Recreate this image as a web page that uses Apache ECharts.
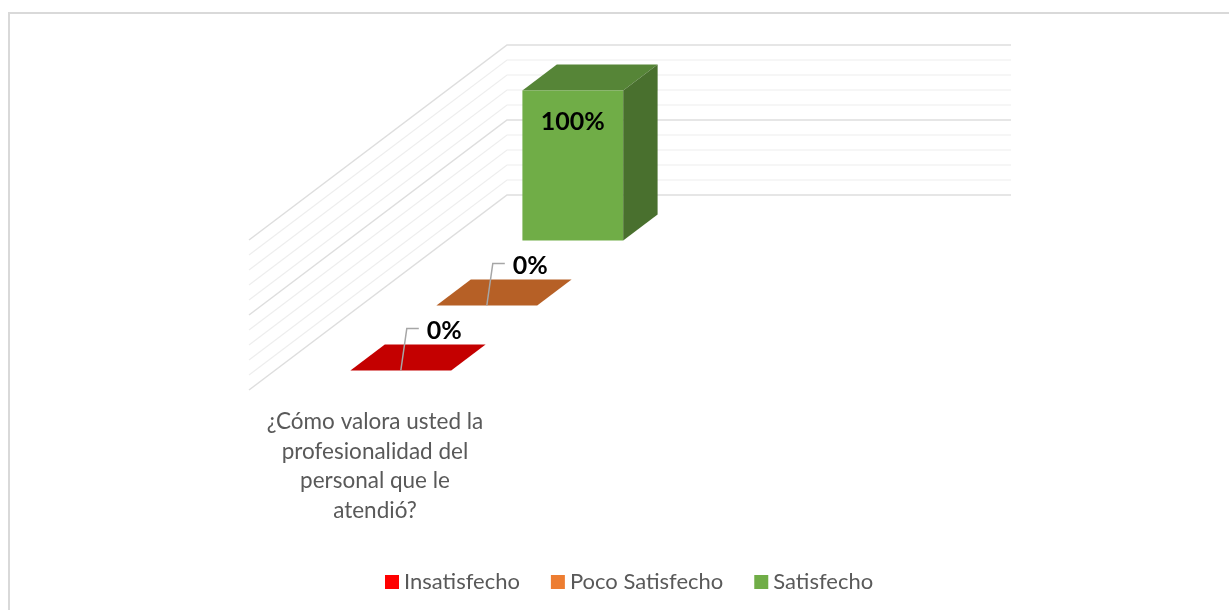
<!DOCTYPE html>
<html>
<head>
<meta charset="utf-8">
<style>
  html, body { margin: 0; padding: 0; background: #fff; overflow: hidden; }
  #chart { width: 1229px; height: 610px; }
</style>
<script src="https://cdn.jsdelivr.net/npm/echarts@6/dist/echarts.min.js"></script>
</head>
<body>
<div id="chart"></div>
<script>
const categories = ['¿Cómo valora usted la\nprofesionalidad del\npersonal que le\natendió?', '']
const seriesNames = ['Insatisfecho', 'Poco Satisfecho', 'Satisfecho']
const insatisfechoValues = [0]
const pocoSatisfechoValues = [0]
const satisfechoValues = [100]
const yTicks = [0, 10, 20, 30, 40, 50, 60, 70, 80, 90, 100]

const seriesColors = ['#FF0000', '#ED7D31', '#70AD47']
const fontName = 'Lato, "Open Sans", sans-serif'

// vector of the floor from the back wall to the front edge
const depth = [-258, 195]
const barDepth = 0.1333
const barWidth = 0.4

function project(x, y, t) {
  return [x + t * depth[0], y + t * depth[1]]
}

function shade(color, k) {
  const c = echarts.color.parse(color)
  return 'rgb(' + Math.round(c[0] * k) + ',' + Math.round(c[1] * k) + ',' + Math.round(c[2] * k) + ')'
}

function wallItem(params, api) {
  const tick = api.value(0)
  const y = api.coord([0, tick])[1]
  const x0 = params.coordSys.x
  const x1 = x0 + params.coordSys.width
  const major = tick % 50 === 0
  return {
    type: 'polyline',
    shape: { points: [[x1, y], [x0, y], project(x0, y, 1)] },
    style: { fill: null, stroke: major ? '#dedede' : '#eeeeee', lineWidth: major ? 1.5 : 1.2 }
  }
}

function barItem(row) {
  return function (params, api) {
    const value = api.value(1)
    const base = api.coord([0, 0])
    const top = api.coord([0, value])
    const w = api.size([1, 0])[0] * barWidth
    const xl = base[0] - w / 2
    const xr = base[0] + w / 2
    const mid = (seriesNames.length - row - 0.5) / seriesNames.length
    const tf = mid + barDepth / 2
    const tb = mid - barDepth / 2
    const color = seriesColors[row]
    const children = []

    children.push({
      type: 'polygon',
      shape: { points: [project(xl, top[1], tf), project(xr, top[1], tf), project(xr, top[1], tb), project(xl, top[1], tb)] },
      style: { fill: shade(color, 0.77) }
    })
    if (value > 0) {
      children.push({
        type: 'polygon',
        shape: { points: [project(xl, top[1], tf), project(xr, top[1], tf), project(xr, base[1], tf), project(xl, base[1], tf)] },
        style: { fill: color }
      })
      children.push({
        type: 'polygon',
        shape: { points: [project(xr, top[1], tf), project(xr, top[1], tb), project(xr, base[1], tb), project(xr, base[1], tf)] },
        style: { fill: shade(color, 0.65) }
      })
    }

    const anchor = project(base[0], top[1], tf)
    if (value > 0) {
      children.push({
        type: 'text',
        style: {
          text: value + '%', x: anchor[0], y: anchor[1] + 31, align: 'center', verticalAlign: 'middle',
          fontFamily: fontName, fontSize: 25, fontWeight: 'bold', fill: '#000'
        }
      })
    } else {
      // zero bars get a leader line up to the label
      children.push({
        type: 'polyline',
        shape: { points: [anchor, [anchor[0] + 6, anchor[1] - 42], [anchor[0] + 18, anchor[1] - 42]] },
        style: { fill: null, stroke: '#a6a6a6', lineWidth: 1.5 }
      })
      children.push({
        type: 'text',
        style: {
          text: value + '%', x: anchor[0] + 26, y: anchor[1] - 40, align: 'left', verticalAlign: 'middle',
          fontFamily: fontName, fontSize: 25, fontWeight: 'bold', fill: '#000'
        }
      })
    }
    return { type: 'group', children: children }
  }
}

function categoryItem(params, api) {
  const c = api.coord([api.value(0), 0])
  const p = project(c[0], c[1], 1)
  return {
    type: 'text',
    style: {
      text: categories[api.value(0)], x: p[0], y: p[1] + 17, align: 'center', verticalAlign: 'top',
      fontFamily: fontName, fontSize: 22.5, lineHeight: 29.5, fill: '#595959'
    }
  }
}

const chart = echarts.init(document.getElementById('chart'))
chart.setOption({
  animation: false,
  backgroundColor: '#fff',
  graphic: [
    {
      type: 'rect',
      shape: { x: 9, y: 13, width: 1400, height: 800 },
      style: { fill: null, stroke: '#d9d9d9', lineWidth: 2 },
      silent: true
    }
  ],
  grid: { left: 507, right: 218, top: 45, bottom: 415 },
  xAxis: { type: 'category', data: categories, show: false },
  yAxis: { type: 'value', min: 0, max: 100, interval: 10, show: false },
  legend: {
    data: seriesNames,
    left: 380,
    top: 566,
    icon: 'rect',
    itemWidth: 14,
    itemHeight: 14,
    itemGap: 31,
    selectedMode: false,
    textStyle: { fontFamily: fontName, fontSize: 22, color: '#595959' }
  },
  series: [
    {
      type: 'custom', name: 'walls', silent: true, z: 1,
      encode: { y: 0 },
      renderItem: wallItem,
      data: yTicks.map(t => [t])
    },
    {
      type: 'custom', name: 'categoryLabels', silent: true, z: 1,
      renderItem: categoryItem,
      data: [[0]]
    },
    {
      type: 'custom', name: seriesNames[0], z: 2,
      itemStyle: { color: seriesColors[0] },
      encode: { x: 0, y: 1 },
      renderItem: barItem(0),
      data: insatisfechoValues.map((v, i) => [i, v])
    },
    {
      type: 'custom', name: seriesNames[1], z: 2,
      itemStyle: { color: seriesColors[1] },
      encode: { x: 0, y: 1 },
      renderItem: barItem(1),
      data: pocoSatisfechoValues.map((v, i) => [i, v])
    },
    {
      type: 'custom', name: seriesNames[2], z: 2,
      itemStyle: { color: seriesColors[2] },
      encode: { x: 0, y: 1 },
      renderItem: barItem(2),
      data: satisfechoValues.map((v, i) => [i, v])
    }
  ]
})
</script>
</body>
</html>
